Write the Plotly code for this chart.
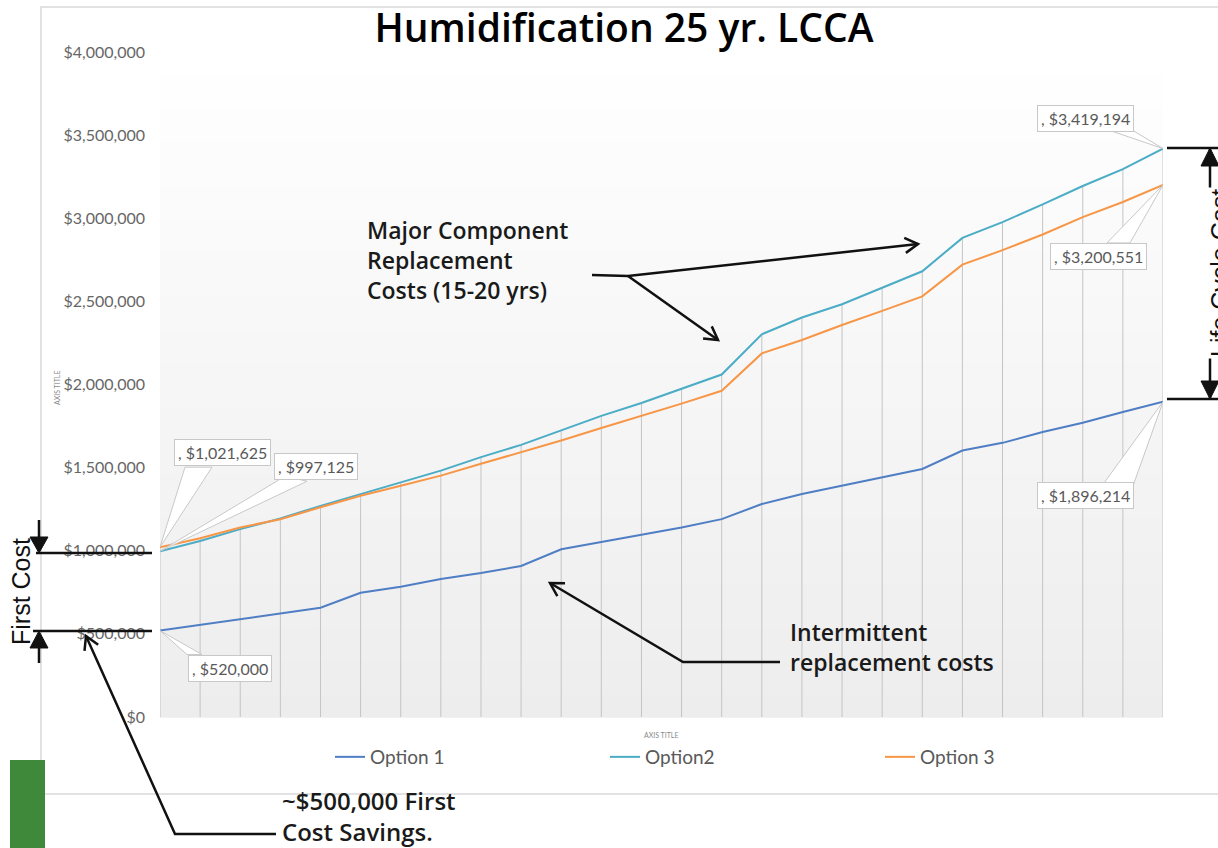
import math
import plotly.graph_objects as go

# ---------------- data ----------------
years = list(range(26))
option1 = [520000, 554000, 588000, 622000, 657000, 747000, 784000, 830000, 866000, 908000,
           1009000, 1053000, 1095000, 1140000, 1190000, 1281000, 1341000, 1391000, 1438000, 1492000,
           1603000, 1649000, 1714000, 1770000, 1835000, 1896214]
option2 = [997125, 1059000, 1130000, 1194000, 1270000, 1341000, 1411000, 1482000, 1563000, 1637000,
           1724000, 1811000, 1889000, 1976000, 2060000, 2302000, 2403000, 2483000, 2580000, 2681000,
           2882000, 2977000, 3083000, 3194000, 3295000, 3419194]
option3 = [1021625, 1075000, 1140000, 1190000, 1262000, 1331000, 1391000, 1452000, 1523000, 1593000,
           1663000, 1738000, 1811000, 1885000, 1962000, 2187000, 2268000, 2358000, 2443000, 2530000,
           2721000, 2808000, 2902000, 3007000, 3098000, 3200551]
series_names = ["Option 1", "Option2", "Option 3"]
ytick_vals = [0, 500000, 1000000, 1500000, 2000000, 2500000, 3000000, 3500000, 4000000]
ytick_text = ["$0", "$500,000", "$1,000,000", "$1,500,000", "$2,000,000",
              "$2,500,000", "$3,000,000", "$3,500,000", "$4,000,000"]
title_text = "Humidification 25 yr. LCCA"

# ---------------- styling ----------------
series_colors = ["#4F7EC4", "#4BACC6", "#F79646"]
W, H = 1218, 848
L, R, T, B = 160, 1163, 52, 717
ANNO_FONT = dict(family="Open Sans", size=23, color="#1a1a1a", weight=600)
LABEL_FONT = dict(family="Lato", size=16, color="#595959")


def px(X):
    return (X - L) / (R - L)


def py(Y):
    return (B - Y) / (B - T)


def poly(points):
    return "M" + " L".join(f"{px(x):.5f},{py(y):.5f}" for x, y in points)


def chevron(tip, frm, size=15, ang=30):
    X, Y = tip
    X0, Y0 = frm
    a = math.atan2(Y0 - Y, X0 - X)
    pts = []
    for s in (1, -1):
        b = a + s * math.radians(ang)
        pts.append((X + size * math.cos(b), Y + size * math.sin(b)))
    return poly([pts[0], tip, pts[1]])


fig = go.Figure()

# drop lines from each year down to the axis
dx, dy = [], []
for i, yr in enumerate(years):
    dx += [yr, yr, None]
    dy += [0, max(option1[i], option2[i], option3[i]), None]
fig.add_trace(go.Scatter(x=dx, y=dy, mode="lines", line=dict(color="#c4c4c4", width=1),
                         showlegend=False, hoverinfo="skip"))

for name, vals, col in zip(series_names, [option1, option2, option3], series_colors):
    fig.add_trace(go.Scatter(x=years, y=vals, name=name, mode="lines",
                             line=dict(color=col, width=2)))

shapes = []
# gradient plot background
n = 60
for k in range(n):
    t = (k + 0.5) / n
    c = int(round(237 + 18 * t))
    shapes.append(dict(type="rect", xref="paper", yref="paper", x0=0, x1=1,
                       y0=k / n - 0.001, y1=(k + 1) / n + 0.001, layer="below",
                       line=dict(width=0), fillcolor=f"rgb({c},{c},{c})"))

frame = dict(color="#d9d9d9", width=1.5)
shapes += [
    dict(type="path", xref="paper", yref="paper", path=poly([(41, 795), (41, 7), (1220, 7)]), line=frame),
    dict(type="path", xref="paper", yref="paper", path=poly([(41, 794), (1220, 794)]), line=frame),
    dict(type="rect", xref="paper", yref="paper", x0=px(10), x1=px(45), y0=py(760), y1=py(850),
         fillcolor="#3E8A3A", line=dict(width=0)),
]

# callout wedges for data labels
callouts = [
    (option3, 0, (62, 95), [(25, 80), (52, 80)]),
    (option2, 0, (156, 85), [(125, 75), (147, 70)]),
    (option1, 0, (70, -38), [(27, -24), (42, -24)]),
    (option2, 25, (-78, 30), [(-53, 18), (-30, 18)]),
    (option3, 25, (-65, -72), [(-56, -58), (-33, -58)]),
    (option1, 25, (-78, -94), [(-61, -84), (-30, -84)]),
]
annotations = []
for vals, i, (sx, sy), wedge in callouts:
    (a1, b1), (a2, b2) = wedge
    shapes.append(dict(type="path", xref="x", yref="y", xsizemode="pixel", ysizemode="pixel",
                       xanchor=years[i], yanchor=vals[i],
                       path=f"M0,0 L{a1},{b1} L{a2},{b2} Z",
                       fillcolor="white", line=dict(color="#c8c8c8", width=1)))
    annotations.append(dict(x=years[i], y=vals[i], xref="x", yref="y", showarrow=False,
                            xshift=sx, yshift=sy, text=f", ${vals[i]:,}", font=LABEL_FONT,
                            bgcolor="white", bordercolor="#c8c8c8", borderwidth=1, borderpad=3))

blk = dict(color="#111111", width=2.5)
tri = dict(fillcolor="#111111", line=dict(color="#111111", width=1))
shapes += [
    # major component arrows
    dict(type="path", xref="paper", yref="paper", path=poly([(592, 275), (628, 276), (918, 244)]), line=blk),
    dict(type="path", xref="paper", yref="paper", path=poly([(628, 276), (718, 340)]), line=blk),
    dict(type="path", xref="paper", yref="paper", path=chevron((918, 244), (628, 276)), line=blk),
    dict(type="path", xref="paper", yref="paper", path=chevron((718, 340), (628, 276)), line=blk),
    # intermittent
    dict(type="path", xref="paper", yref="paper", path=poly([(780, 662), (683, 662), (550, 583)]), line=blk),
    dict(type="path", xref="paper", yref="paper", path=chevron((550, 583), (683, 662)), line=blk),
    # first cost savings
    dict(type="path", xref="paper", yref="paper", path=poly([(276, 834), (175, 834), (86, 636)]), line=blk),
    dict(type="path", xref="paper", yref="paper", path=chevron((86, 636), (175, 834)), line=blk),
    # first cost bracket
    dict(type="path", xref="paper", yref="paper", path=poly([(36, 553), (152, 553)]), line=blk),
    dict(type="path", xref="paper", yref="paper", path=poly([(33, 631), (152, 631)]), line=blk),
    dict(type="path", xref="paper", yref="paper", path=poly([(39, 520), (39, 540)]), line=blk),
    dict(type="path", xref="paper", yref="paper", path=poly([(39, 663), (39, 645)]), line=blk),
    dict(type="path", xref="paper", yref="paper", path=poly([(30, 537), (48, 537), (39, 553)]) + " Z", **tri),
    dict(type="path", xref="paper", yref="paper", path=poly([(30, 648), (48, 648), (39, 631)]) + " Z", **tri),
    # life cycle cost bracket
    dict(type="path", xref="paper", yref="paper", path=poly([(1167, 148), (1222, 148)]), line=blk),
    dict(type="path", xref="paper", yref="paper", path=poly([(1167, 399), (1222, 399)]), line=blk),
    dict(type="path", xref="paper", yref="paper", path=poly([(1210, 148), (1210, 399)]), line=blk),
    dict(type="path", xref="paper", yref="paper", path=poly([(1201, 166), (1219, 166), (1210, 148)]) + " Z", **tri),
    dict(type="path", xref="paper", yref="paper", path=poly([(1201, 381), (1219, 381), (1210, 399)]) + " Z", **tri),
]


def text_block(text, X, Yc, font):
    return dict(x=px(X), y=py(Yc), xref="paper", yref="paper", xanchor="left", yanchor="middle",
                align="left", showarrow=False, text=text, font=font)


annotations += [
    text_block("Major Component<br>Replacement<br>Costs (15-20 yrs)", 365, 260, ANNO_FONT),
    text_block("Intermittent<br>replacement costs", 788, 647, ANNO_FONT),
    text_block("~$500,000 First<br>Cost Savings.", 280, 816, dict(ANNO_FONT, size=24)),
    dict(x=px(21), y=py(592), xref="paper", yref="paper", xanchor="center", yanchor="middle",
         showarrow=False, textangle=-90, text="First Cost",
         font=dict(family="Liberation Sans", size=25, color="#111111")),
    dict(x=px(1220), y=py(273), xref="paper", yref="paper", xanchor="center", yanchor="middle",
         showarrow=False, textangle=-90, text="Life Cycle Cost", bgcolor="white",
         font=dict(family="Liberation Sans", size=25, color="#111111")),
    dict(x=px(57), y=py(388), xref="paper", yref="paper", xanchor="center", yanchor="middle",
         showarrow=False, textangle=-90, text="AXIS TITLE",
         font=dict(family="Lato", size=7, color="#8a8a8a")),
    dict(x=px(661), y=py(735), xref="paper", yref="paper", xanchor="center", yanchor="middle",
         showarrow=False, text="AXIS TITLE",
         font=dict(family="Lato", size=7, color="#8a8a8a")),
]

fig.update_layout(
    width=W, height=H,
    margin=dict(l=L, r=W - R, t=T, b=H - B, pad=0),
    paper_bgcolor="white", plot_bgcolor="rgba(0,0,0,0)",
    title=dict(text=title_text, x=624 / W, xanchor="center", y=1 - 28 / H, yanchor="middle",
               font=dict(family="Open Sans", size=39, color="#000000", weight=600)),
    xaxis=dict(range=[0, 25], showgrid=False, zeroline=False, showline=False,
               showticklabels=False, ticks=""),
    yaxis=dict(range=[0, 4000000], tickvals=ytick_vals, ticktext=ytick_text, showgrid=False,
               zeroline=False, showline=False, ticks="", ticklabelstandoff=14,
               tickfont=dict(family="Lato", size=16, color="#666666")),
    legend=dict(orientation="h", x=px(330), xanchor="left", y=py(757), yanchor="middle",
                entrywidth=230, entrywidthmode="pixels", bgcolor="rgba(0,0,0,0)",
                font=dict(family="Lato", size=19, color="#595959")),
    shapes=shapes,
    annotations=annotations,
    showlegend=True,
)

fig.write_html("out.html", config={"displayModeBar": False},
               post_script="document.body.style.margin='0';document.body.style.overflow='hidden';")
